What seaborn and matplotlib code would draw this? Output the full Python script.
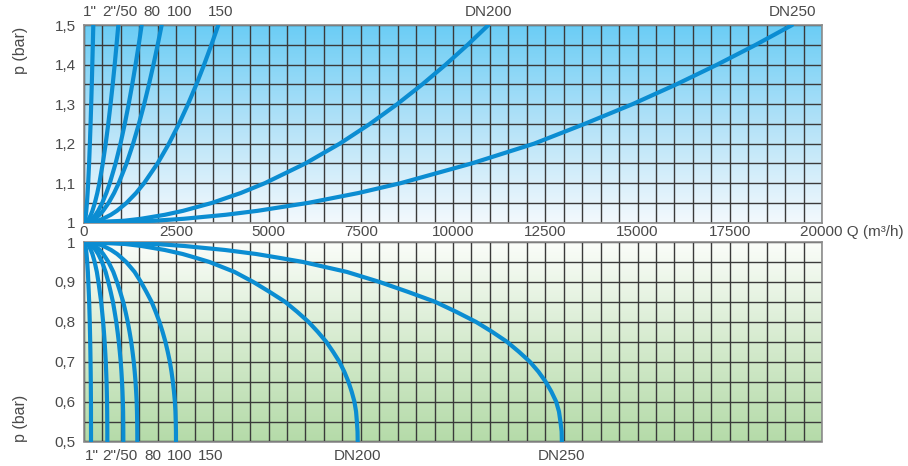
import numpy as np
import pandas as pd
import matplotlib
matplotlib.use("Agg")
import matplotlib.pyplot as plt
import matplotlib.transforms as mtransforms
from matplotlib.colors import LinearSegmentedColormap
import seaborn as sns

# ---------------- data ----------------
SIZES = ['1"', '2"/50', '80', '100', '150', 'DN200', 'DN250']

# upper panel: pressure levels and flow read for each curve
P_TOP = [1.0, 1.005, 1.01, 1.02, 1.03, 1.05, 1.075, 1.1, 1.15, 1.2, 1.25, 1.3, 1.35, 1.4, 1.45, 1.5]
q_top_1in = [0, 25, 36, 50, 62, 80, 98, 113, 138, 159, 178, 195, 211, 225, 239, 252]
q_top_2in = [0, 93, 132, 186, 228, 294, 360, 416, 509, 588, 658, 720, 778, 832, 882, 930]
q_top_80 = [0, 156, 221, 313, 383, 494, 605, 699, 856, 989, 1105, 1211, 1308, 1398, 1483, 1563]
q_top_100 = [0, 211, 298, 421, 516, 666, 815, 941, 1153, 1331, 1488, 1631, 1761, 1883, 1997, 2105]
q_top_150 = [0, 364, 515, 728, 891, 1151, 1410, 1628, 1994, 2302, 2574, 2820, 3046, 3256, 3453, 3640]
q_top_dn200 = [0, 1096, 1550, 2192, 2684, 3466, 4245, 4901, 6003, 6932, 7750, 8490, 9170, 9803, 10398, 10960]
q_top_dn250 = [0, 1919, 2713, 3838, 4700, 6068, 7432, 8582, 10510, 12200, 13569, 14870, 16056, 17164, 18206, 19190]

# lower panel
P_BOT = [1.0, 0.995, 0.99, 0.98, 0.97, 0.96, 0.95, 0.925, 0.9, 0.875, 0.85, 0.825, 0.8, 0.775,
         0.75, 0.725, 0.7, 0.675, 0.65, 0.625, 0.6, 0.575, 0.55, 0.525, 0.5]
q_bot_1in = [0, 29, 40, 56, 68, 78, 87, 105, 117, 129, 140, 148, 156, 162, 168, 173, 177, 181,
             184, 186, 188, 189, 189, 190, 190]
q_bot_2in = [0, 95, 133, 186, 228, 259, 289, 348, 391, 428, 465, 492, 518, 540, 559, 575, 590,
             601, 611, 618, 624, 628, 630, 632, 632]
q_bot_80 = [0, 160, 224, 314, 384, 437, 488, 586, 659, 723, 784, 830, 874, 910, 943, 970, 995,
            1014, 1030, 1043, 1053, 1060, 1063, 1065, 1066]
q_bot_100 = [0, 217, 303, 426, 520, 592, 662, 795, 893, 980, 1062, 1126, 1185, 1234, 1279, 1315,
             1348, 1374, 1396, 1413, 1428, 1436, 1441, 1444, 1445]
q_bot_150 = [0, 374, 524, 735, 897, 1022, 1142, 1371, 1541, 1690, 1832, 1942, 2044, 2129, 2206,
             2269, 2326, 2371, 2408, 2438, 2463, 2478, 2486, 2492, 2493]
q_bot_dn200 = [0, 1113, 1558, 2188, 2670, 3041, 3397, 4079, 4584, 5029, 5451, 5778, 6082, 6334,
               6564, 6749, 6920, 7054, 7165, 7254, 7328, 7373, 7395, 7413, 7417]
q_bot_dn250 = [0, 1943, 2720, 3820, 4662, 5310, 5931, 7123, 8003, 8780, 9518, 10088, 10619, 11059,
               11461, 11785, 12082, 12315, 12510, 12665, 12795, 12872, 12911, 12944, 12950]

X_TICKS = [0, 2500, 5000, 7500, 10000, 12500, 15000, 17500, 20000]
X_TICK_LABELS = ["0", "2500", "5000", "7500", "10000", "12500", "15000", "17500", ""]
X_LAST_LABEL = "20000 Q (m³/h)"
Y_TICKS_TOP = [1.0, 1.1, 1.2, 1.3, 1.4, 1.5]
Y_LABELS_TOP = ["1", "1,1", "1,2", "1,3", "1,4", "1,5"]
Y_TICKS_BOT = [0.5, 0.6, 0.7, 0.8, 0.9, 1.0]
Y_LABELS_BOT = ["0,5", "0,6", "0,7", "0,8", "0,9", "1"]

# label anchor positions along Q (layout)
LABEL_Q_TOP = [170, 980, 1850, 2600, 3690, 10960, 19190]
LABEL_Q_BOT = [200, 980, 1870, 2600, 3440, 7420, 12930]

# ---------------- frames ----------------
tops = [q_top_1in, q_top_2in, q_top_80, q_top_100, q_top_150, q_top_dn200, q_top_dn250]
bots = [q_bot_1in, q_bot_2in, q_bot_80, q_bot_100, q_bot_150, q_bot_dn200, q_bot_dn250]
df_top = pd.DataFrame([(s, q, p) for s, qs in zip(SIZES, tops) for q, p in zip(qs, P_TOP)],
                      columns=["size", "Q", "p"])
df_bot = pd.DataFrame([(s, q, p) for s, qs in zip(SIZES, bots) for q, p in zip(qs, P_BOT)],
                      columns=["size", "Q", "p"])

# ---------------- style ----------------
sns.set_style("white")
plt.rcParams["font.family"] = ["Liberation Sans", "DejaVu Sans"]
TXT = "#4a4a4a"
LINE = "#0b8dd2"
GRID = "#3a3a3a"
FS = 11

W, H = 908, 466
fig = plt.figure(figsize=(W / 100, H / 100), dpi=100)
ax_t = fig.add_axes([84 / W, 1 - 222.7 / H, 738 / W, 197.7 / H])
ax_b = fig.add_axes([84 / W, 1 - 441.5 / H, 738 / W, 199.5 / H])

cmap_t = LinearSegmentedColormap.from_list("t", ["#f3f9fd", "#b3e2f8", "#6bcdf5"])
cmap_b = LinearSegmentedColormap.from_list("b", ["#b5dba9", "#d6ebcf", "#fbfdfa"])
grad = np.linspace(0, 1, 256).reshape(-1, 1)
ax_t.imshow(grad, extent=[0, 20000, 1.0, 1.5], origin="lower", aspect="auto", cmap=cmap_t, zorder=0)
ax_b.imshow(grad, extent=[0, 20000, 0.5, 1.0], origin="lower", aspect="auto", cmap=cmap_b, zorder=0)

for ax, df, ylim in [(ax_t, df_top, (1.0, 1.5)), (ax_b, df_bot, (0.5, 1.0))]:
    sns.lineplot(data=df, x="Q", y="p", units="size", estimator=None, sort=False,
                 color=LINE, linewidth=3.0, ax=ax, legend=False, zorder=3)
    ax.set_xlim(0, 20000)
    ax.set_ylim(*ylim)
    ax.set_xticks(X_TICKS)
    ax.set_xticks(np.arange(0, 20001, 500), minor=True)
    ax.set_yticks(np.arange(ylim[0], ylim[1] + 0.001, 0.05), minor=True)
    ax.grid(True, which="both", color=GRID, linewidth=1.0)
    ax.set_xlabel("")
    ax.set_ylabel("")
    ax.tick_params(which="both", length=0, labelsize=FS, labelcolor=TXT, pad=6)
    for sp in ax.spines.values():
        sp.set_color("#8c8c8c")
        sp.set_linewidth(1.2)

ax_t.set_yticks(Y_TICKS_TOP)
ax_t.set_yticklabels(Y_LABELS_TOP)
ax_b.set_yticks(Y_TICKS_BOT)
ax_b.set_yticklabels(Y_LABELS_BOT)
ax_t.set_xticklabels(X_TICK_LABELS)
ax_t.tick_params(axis="x", pad=2)
ax_b.set_xticklabels([])

# last x label with the axis unit, starting a little left of the 20000 gridline
ax_t.annotate(X_LAST_LABEL, xy=(X_TICKS[-1], 1.0), xycoords="data", xytext=(-16, -2.0),
              textcoords="offset points", ha="left", va="top", fontsize=FS, color=TXT)

tr_t = mtransforms.blended_transform_factory(ax_t.transData, ax_t.transAxes)
tr_b = mtransforms.blended_transform_factory(ax_b.transData, ax_b.transAxes)
for lab, qx in zip(SIZES, LABEL_Q_TOP):
    ax_t.text(qx, 1.066, lab, transform=tr_t, ha="center", va="center", fontsize=FS, color=TXT)
for lab, qx in zip(SIZES, LABEL_Q_BOT):
    ax_b.text(qx, -0.073, lab, transform=tr_b, ha="center", va="center", fontsize=FS, color=TXT)

fig.text(20 / W, 1 - 50 / H, "p (bar)", rotation=90, ha="center", va="center", fontsize=11.5, color=TXT)
fig.text(20 / W, 1 - 418 / H, "p (bar)", rotation=90, ha="center", va="center", fontsize=11.5, color=TXT)

fig.savefig("out.png", dpi=100)
